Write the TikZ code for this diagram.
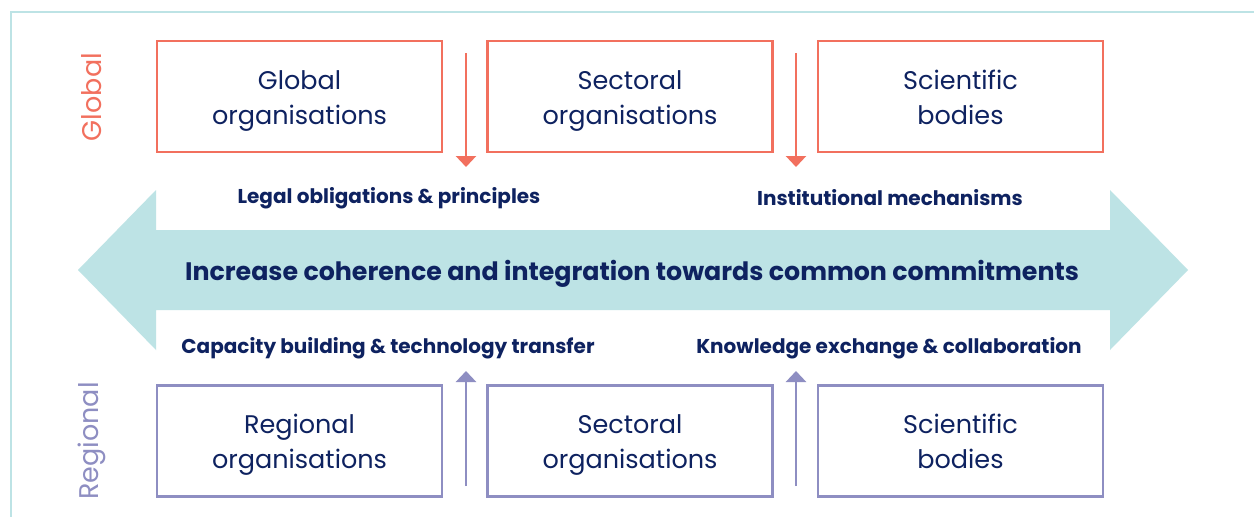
\documentclass[tikz,border=0pt]{standalone}
\usepackage{fontspec}
\setmainfont{Poppins}
\usetikzlibrary{arrows.meta}
\definecolor{salmon}{HTML}{F2705E}
\definecolor{lav}{HTML}{8E8EC2}
\definecolor{navy}{HTML}{0E2260}
\definecolor{teal}{HTML}{BDE3E5}
\begin{document}
\begin{tikzpicture}[x=1pt,y=-1pt,
  gbox/.style={draw=salmon,line width=2.5pt,minimum width=285pt,minimum height=111pt,align=center,text=navy,font=\fontsize{25.5}{35}\selectfont},
  rbox/.style={gbox,draw=lav},
  lbl/.style={text=navy,font=\fontsize{20}{22}\selectfont\bfseries},
  side/.style={rotate=90,font=\fontsize{27}{30}\selectfont},
  garr/.style={draw=salmon,line width=2.5pt,-{Triangle[width=20pt,length=11pt]}},
  rarr/.style={draw=lav,line width=2.5pt,-{Triangle[width=20pt,length=11pt]}}]
\useasboundingbox (0,0) rectangle (1254,517);
\fill[white] (0,0) rectangle (1254,517);
% frame
\draw[teal,line width=2pt] (10.5,517) -- (10.5,11.5) -- (1254,11.5);
% big double arrow
\fill[teal] (78,270) -- (156,190) -- (156,230) -- (1110,230) -- (1110,190) -- (1188,270)
  -- (1110,350) -- (1110,310) -- (156,310) -- (156,350) -- cycle;
\node[text=navy,font=\fontsize{25.3}{28}\selectfont\bfseries] (main) at (632,274) {Increase coherence and integration towards common commitments};
% side labels
\node[side,text=salmon] (glob) at (92,97) {Global};
\node[side,text=lav] (reg) at (92,441) {Regional};
% boxes
\node[gbox,text depth=0pt] (g1) at (299.5,96.5) {};
\node[gbox,text depth=0pt] (g2) at (630,96.5) {};
\node[gbox,text depth=0pt] (g3) at (960.5,96.5) {};
\node[rbox,text depth=0pt] (r1) at (299.5,441) {};
\node[rbox,text depth=0pt] (r2) at (630,441) {};
\node[rbox,text depth=0pt] (r3) at (960.5,441) {};
\node[gbox,draw=none] (g1t) at (299.5,100) {\strut Global\\\strut organisations};
\node[gbox,draw=none] (g2t) at (630,100) {\strut Sectoral\\\strut organisations};
\node[gbox,draw=none] (g3t) at (960.5,100) {\strut Scientific\\\strut bodies};
\node[gbox,draw=none] (r1t) at (299.5,444) {\strut Regional\\\strut organisations};
\node[gbox,draw=none] (r2t) at (630,444) {\strut Sectoral\\\strut organisations};
\node[gbox,draw=none] (r3t) at (960.5,444) {\strut Scientific\\\strut bodies};
% labels
\node[lbl] (l1) at (389,198) {Legal obligations \& principles};
\node[lbl] (l2) at (890,198) {Institutional mechanisms};
\node[lbl] (l3) at (388,348) {Capacity building \& technology transfer};
\node[lbl] (l4) at (889,348) {Knowledge exchange \& collaboration};
% arrows
\coordinate (a1s) at (466,53); \coordinate (a1e) at (466,167);
\coordinate (a2s) at (796,53); \coordinate (a2e) at (796,167);
\coordinate (b1s) at (466,486); \coordinate (b1e) at (466,371);
\coordinate (b2s) at (796,486); \coordinate (b2e) at (796,371);
\draw[garr] (a1s) -- (a1e);
\draw[garr] (a2s) -- (a2e);
\draw[rarr] (b1s) -- (b1e);
\draw[rarr] (b2s) -- (b2e);
\end{tikzpicture}
\end{document}
